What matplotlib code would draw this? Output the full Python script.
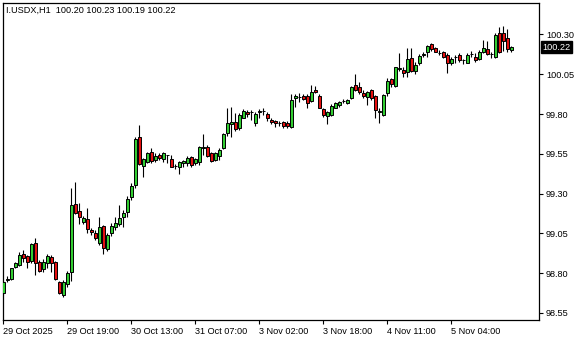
import numpy as np
import matplotlib
matplotlib.use("Agg")
import matplotlib.pyplot as plt
from matplotlib.transforms import blended_transform_factory

# hourly OHLC
opens = [98.672, 98.758, 98.762, 98.840, 98.850, 98.918, 98.909, 98.876, 98.987, 98.867,
         98.825, 98.861, 98.903, 98.867, 98.745, 98.662, 98.729, 98.808, 99.232, 99.190,
         99.123, 99.140, 99.070, 99.050, 98.987, 99.096, 98.949, 99.050, 99.087, 99.108,
         99.154, 99.186, 99.276, 99.354, 99.654, 99.473, 99.500, 99.559, 99.511, 99.542,
         99.515, 99.540, 99.515, 99.473, 99.469, 99.490, 99.490, 99.532, 99.490, 99.500,
         99.586, 99.591, 99.553, 99.511, 99.538, 99.584, 99.679, 99.735, 99.748, 99.710,
         99.777, 99.815, 99.813, 99.742, 99.813, 99.820, 99.798, 99.762, 99.757, 99.741,
         99.748, 99.742, 99.720, 99.899, 99.904, 99.913, 99.913, 99.882, 99.951, 99.915,
         99.831, 99.789, 99.794, 99.840, 99.857, 99.881, 99.867, 99.899, 99.982, 99.968,
         99.930, 99.909, 99.951, 99.915, 99.814, 99.794, 99.930, 100.020, 99.978, 100.086,
         100.077, 100.066, 100.154, 100.070, 100.119, 100.172, 100.192, 100.240, 100.213, 100.181,
         100.188, 100.171, 100.119, 100.159, 100.171, 100.142, 100.123, 100.175, 100.160, 100.144,
         100.188, 100.207, 100.176, 100.157, 100.308, 100.308, 100.276, 100.20]
highs = [98.750, 98.780, 98.835, 98.871, 98.934, 98.945, 98.915, 98.987, 99.022, 98.880,
         98.890, 98.920, 98.913, 98.875, 98.750, 98.756, 98.815, 99.333, 99.374, 99.238,
         99.160, 99.207, 99.081, 99.070, 99.154, 99.102, 99.050, 99.113, 99.154, 99.228,
         99.196, 99.285, 99.364, 99.657, 99.731, 99.521, 99.563, 99.584, 99.553, 99.553,
         99.559, 99.545, 99.542, 99.484, 99.504, 99.511, 99.536, 99.536, 99.525, 99.600,
         99.672, 99.605, 99.563, 99.563, 99.584, 99.679, 99.836, 99.846, 99.804, 99.804,
         99.831, 99.825, 99.825, 99.815, 99.831, 99.840, 99.815, 99.773, 99.762, 99.756,
         99.756, 99.756, 99.924, 99.924, 99.930, 99.924, 99.924, 99.982, 99.978, 99.924,
         99.840, 99.819, 99.861, 99.877, 99.882, 99.896, 99.894, 99.978, 100.050, 99.999,
         99.951, 99.945, 99.957, 99.920, 99.840, 99.924, 100.025, 100.025, 100.098, 100.182,
         100.098, 100.213, 100.213, 100.125, 100.176, 100.192, 100.235, 100.248, 100.223, 100.202,
         100.198, 100.182, 100.157, 100.171, 100.182, 100.144, 100.182, 100.198, 100.182, 100.202,
         100.265, 100.261, 100.192, 100.308, 100.345, 100.354, 100.333, 100.23]
lows = [98.665, 98.745, 98.756, 98.835, 98.845, 98.867, 98.830, 98.861, 98.788, 98.808,
        98.808, 98.830, 98.808, 98.756, 98.666, 98.651, 98.710, 98.750, 99.170, 99.106,
        99.106, 99.050, 99.039, 99.008, 98.976, 98.920, 98.940, 99.030, 99.070, 99.096,
        99.087, 99.154, 99.260, 99.333, 99.479, 99.402, 99.490, 99.494, 99.500, 99.510,
        99.500, 99.490, 99.465, 99.454, 99.421, 99.469, 99.475, 99.469, 99.479, 99.479,
        99.542, 99.532, 99.500, 99.504, 99.511, 99.580, 99.664, 99.657, 99.693, 99.700,
        99.773, 99.783, 99.762, 99.726, 99.777, 99.794, 99.756, 99.735, 99.720, 99.726,
        99.714, 99.714, 99.714, 99.846, 99.877, 99.888, 99.836, 99.874, 99.930, 99.836,
        99.783, 99.735, 99.789, 99.836, 99.846, 99.867, 99.862, 99.894, 99.945, 99.924,
        99.899, 99.857, 99.888, 99.773, 99.742, 99.789, 99.915, 99.972, 99.972, 100.070,
        100.035, 100.035, 100.062, 100.050, 100.108, 100.160, 100.157, 100.198, 100.188, 100.171,
        100.150, 100.056, 100.108, 100.123, 100.130, 100.114, 100.119, 100.157, 100.130, 100.140,
        100.182, 100.171, 100.150, 100.150, 100.186, 100.198, 100.192, 100.19]
closes = [98.745, 98.762, 98.830, 98.861, 98.913, 98.896, 98.867, 98.981, 98.861, 98.815,
          98.867, 98.909, 98.861, 98.762, 98.672, 98.745, 98.798, 99.228, 99.176, 99.154,
          99.148, 99.075, 99.056, 99.018, 99.087, 98.955, 99.039, 99.096, 99.116, 99.144,
          99.176, 99.264, 99.347, 99.643, 99.486, 99.515, 99.553, 99.503, 99.536, 99.521,
          99.553, 99.542, 99.469, 99.475, 99.500, 99.504, 99.525, 99.479, 99.515, 99.591,
          99.590, 99.538, 99.504, 99.553, 99.574, 99.672, 99.742, 99.752, 99.706, 99.794,
          99.819, 99.798, 99.815, 99.798, 99.816, 99.822, 99.773, 99.748, 99.742, 99.743,
          99.726, 99.725, 99.888, 99.913, 99.906, 99.894, 99.867, 99.937, 99.937, 99.840,
          99.794, 99.811, 99.852, 99.867, 99.874, 99.883, 99.886, 99.972, 99.951, 99.937,
          99.913, 99.937, 99.899, 99.825, 99.816, 99.920, 100.008, 99.987, 100.094, 100.088,
          100.056, 100.146, 100.070, 100.108, 100.167, 100.178, 100.228, 100.207, 100.192, 100.183,
          100.157, 100.123, 100.144, 100.161, 100.140, 100.138, 100.171, 100.177, 100.140, 100.192,
          100.213, 100.177, 100.178, 100.297, 100.192, 100.261, 100.207, 100.22]

time_ticks = [0, 16, 32, 48, 64, 80, 96, 112]
time_labels = ["29 Oct 2025", "29 Oct 19:00", "30 Oct 13:00", "31 Oct 07:00",
               "3 Nov 02:00", "3 Nov 18:00", "4 Nov 11:00", "5 Nov 04:00"]
price_ticks = [98.55, 98.80, 99.05, 99.30, 99.55, 99.80, 100.05, 100.30]
symbol = "I.USDX,H1"

plt.rcParams['font.family'] = ['Liberation Sans', 'DejaVu Sans']
fs = 6.6

o = np.array(opens)
h = np.array(highs)
l = np.array(lows)
c = np.array(closes)
x = np.arange(len(o))

fig = plt.figure(figsize=(5.8, 3.4), dpi=100)
ax = fig.add_axes([3 / 580, 20 / 340, 536 / 580, 317 / 340])

up = c >= o
colors = np.where(up, '#32cd32', '#e41010')
ax.vlines(x, l, h, color='black', lw=0.8, zorder=2)
ax.bar(x, np.abs(c - o), bottom=np.minimum(o, c), width=0.78,
       color=colors, edgecolor='black', linewidth=0.7, zorder=3)

ax.set_xlim(-0.1, 133.9)
ax.set_ylim(98.505, 100.498)

ax.yaxis.tick_right()
ax.set_yticks(price_ticks)
ax.set_yticklabels([f"{p:.2f}" for p in price_ticks], fontsize=fs)
ax.set_xticks(time_ticks)
ax.set_xticklabels(time_labels, fontsize=fs, ha='left')
ax.tick_params(axis='both', length=3, width=0.8, pad=2, colors='black')
for s in ax.spines.values():
    s.set_linewidth(0.9)

# current price box
tr = blended_transform_factory(ax.transAxes, ax.transData)
ax.text(1.006, closes[-1], f"{closes[-1]:.2f}", transform=tr, fontsize=fs,
        color='white', va='center', ha='left',
        bbox=dict(boxstyle='square,pad=0.15', fc='black', ec='black'))

title = f"{symbol}  {opens[-1]:.2f} {highs[-1]:.2f} {lows[-1]:.2f} {closes[-1]:.2f}"
ax.text(0.006, 0.978, title, transform=ax.transAxes, fontsize=fs,
        va='center', ha='left', color='black')

fig.savefig("out.png", dpi=100)
